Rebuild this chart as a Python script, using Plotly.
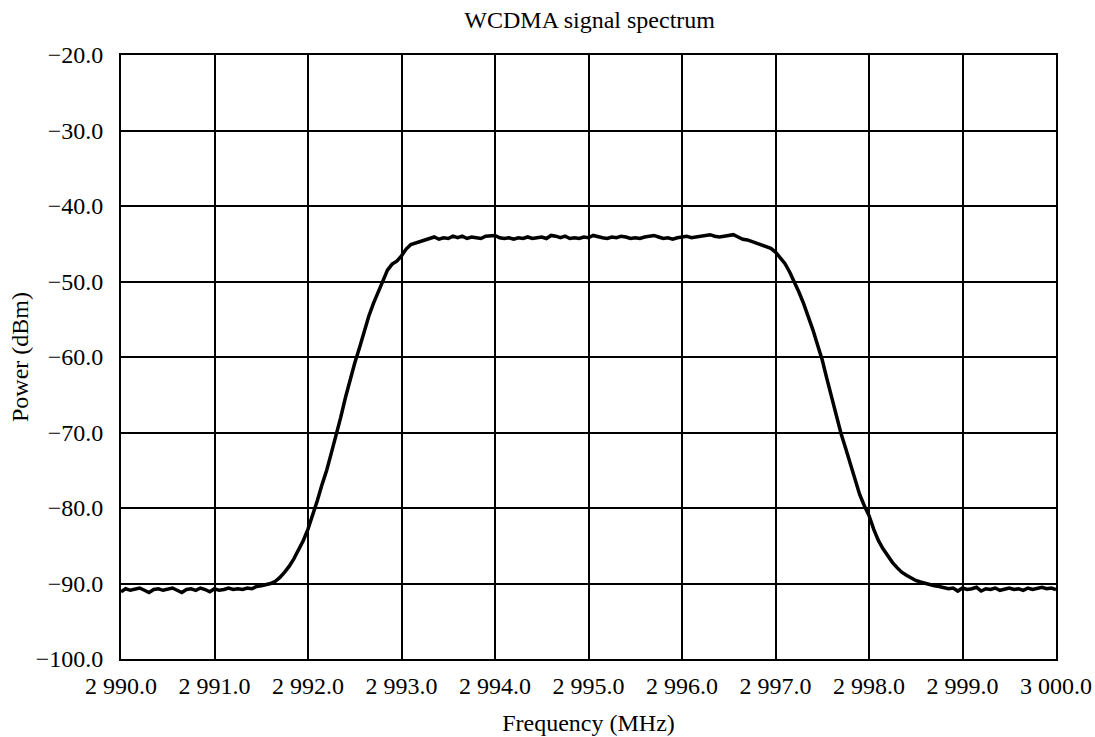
import plotly.graph_objects as go

# Measured WCDMA channel spectrum (frequency in MHz, power in dBm)
freq_mhz = [
    2990.00, 2990.05, 2990.10, 2990.15, 2990.20, 2990.25, 2990.30, 2990.35, 2990.40, 2990.45,
    2990.50, 2990.55, 2990.60, 2990.65, 2990.70, 2990.75, 2990.80, 2990.85, 2990.90, 2990.95,
    2991.00, 2991.05, 2991.10, 2991.15, 2991.20, 2991.25, 2991.30, 2991.35, 2991.40, 2991.45,
    2991.50, 2991.55, 2991.60, 2991.65, 2991.70, 2991.75, 2991.80, 2991.85, 2991.90, 2991.95,
    2992.00, 2992.05, 2992.10, 2992.15, 2992.20, 2992.25, 2992.30, 2992.35, 2992.40, 2992.45,
    2992.50, 2992.55, 2992.60, 2992.65, 2992.70, 2992.75, 2992.80, 2992.85, 2992.90, 2992.95,
    2993.00, 2993.05, 2993.10, 2993.15, 2993.20, 2993.25, 2993.30, 2993.35, 2993.40, 2993.45,
    2993.50, 2993.55, 2993.60, 2993.65, 2993.70, 2993.75, 2993.80, 2993.85, 2993.90, 2993.95,
    2994.00, 2994.05, 2994.10, 2994.15, 2994.20, 2994.25, 2994.30, 2994.35, 2994.40, 2994.45,
    2994.50, 2994.55, 2994.60, 2994.65, 2994.70, 2994.75, 2994.80, 2994.85, 2994.90, 2994.95,
    2995.00, 2995.05, 2995.10, 2995.15, 2995.20, 2995.25, 2995.30, 2995.35, 2995.40, 2995.45,
    2995.50, 2995.55, 2995.60, 2995.65, 2995.70, 2995.75, 2995.80, 2995.85, 2995.90, 2995.95,
    2996.00, 2996.05, 2996.10, 2996.15, 2996.20, 2996.25, 2996.30, 2996.35, 2996.40, 2996.45,
    2996.50, 2996.55, 2996.60, 2996.65, 2996.70, 2996.75, 2996.80, 2996.85, 2996.90, 2996.95,
    2997.00, 2997.05, 2997.10, 2997.15, 2997.20, 2997.25, 2997.30, 2997.35, 2997.40, 2997.45,
    2997.50, 2997.55, 2997.60, 2997.65, 2997.70, 2997.75, 2997.80, 2997.85, 2997.90, 2997.95,
    2998.00, 2998.05, 2998.10, 2998.15, 2998.20, 2998.25, 2998.30, 2998.35, 2998.40, 2998.45,
    2998.50, 2998.55, 2998.60, 2998.65, 2998.70, 2998.75, 2998.80, 2998.85, 2998.90, 2998.95,
    2999.00, 2999.05, 2999.10, 2999.15, 2999.20, 2999.25, 2999.30, 2999.35, 2999.40, 2999.45,
    2999.50, 2999.55, 2999.60, 2999.65, 2999.70, 2999.75, 2999.80, 2999.85, 2999.90, 2999.95,
    3000.00,
]

power_dbm = [
    -91.1, -90.7, -90.9, -90.8, -90.6, -90.9, -91.2, -90.8, -90.7, -90.9,
    -90.8, -90.6, -90.9, -91.2, -90.8, -90.7, -90.9, -90.6, -90.8, -91.1,
    -90.7, -90.9, -90.8, -90.6, -90.8, -90.7, -90.8, -90.6, -90.7, -90.4,
    -90.3, -90.2, -90.0, -89.7, -89.2, -88.5, -87.7, -86.7, -85.6, -84.3,
    -82.8, -81.0, -79.0, -76.9, -75.0, -72.7, -70.5, -68.0, -65.4, -63.0,
    -60.8, -58.8, -56.6, -54.6, -52.9, -51.4, -49.9, -48.5, -47.7, -47.3,
    -46.6, -45.7, -45.1, -44.9, -44.6, -44.4, -44.3, -44.1, -44.4, -44.2,
    -44.3, -44.0, -44.2, -44.0, -44.3, -44.1, -44.2, -44.3, -44.0, -43.9,
    -43.9, -44.2, -44.3, -44.2, -44.4, -44.2, -44.3, -44.1, -44.3, -44.2,
    -44.1, -44.3, -43.9, -44.0, -44.2, -44.0, -44.3, -44.2, -44.3, -44.1,
    -44.2, -43.9, -44.1, -44.2, -44.3, -44.1, -44.2, -44.0, -44.1, -44.3,
    -44.2, -44.3, -44.1, -44.0, -43.9, -44.1, -44.3, -44.2, -44.4, -44.2,
    -44.1, -44.0, -44.2, -44.1, -43.9, -43.9, -43.8, -44.0, -44.1, -44.0,
    -43.9, -43.8, -44.1, -44.4, -44.5, -44.7, -44.9, -45.1, -45.3, -45.6,
    -46.1, -46.9, -47.6, -48.7, -50.0, -51.4, -52.9, -54.6, -56.4, -58.4,
    -60.4, -62.9, -65.3, -67.8, -70.1, -72.1, -74.1, -76.4, -78.2, -79.7,
    -81.0, -82.8, -84.3, -85.4, -86.4, -87.2, -87.9, -88.5, -88.9, -89.3,
    -89.6, -89.8, -90.0, -90.1, -90.3, -90.4, -90.5, -90.7, -90.6, -91.0,
    -90.6, -90.8, -90.7, -90.5, -91.0, -90.7, -90.8, -90.6, -90.9, -90.7,
    -90.6, -90.8, -90.7, -90.9, -90.6, -90.8, -90.7, -90.5, -90.7, -90.6,
    -90.8,
]

FONT = "Liberation Serif, Times New Roman, serif"
FONT_SIZE = 24

fig = go.Figure(
    go.Scatter(
        x=freq_mhz,
        y=power_dbm,
        mode="lines",
        line=dict(color="black", width=3.5),
        hoverinfo="x+y",
        showlegend=False,
    )
)

axis_common = dict(
    showline=True,
    mirror=True,
    linecolor="black",
    linewidth=2,
    showgrid=True,
    gridcolor="black",
    gridwidth=2,
    zeroline=False,
    ticks="",
    automargin=False,
    tickfont=dict(family=FONT, size=FONT_SIZE, color="black"),
)

fig.update_layout(
    width=1095,
    height=737,
    margin=dict(l=121, r=39, t=55, b=78, autoexpand=False),
    paper_bgcolor="white",
    plot_bgcolor="white",
    separators=". ",
    font=dict(family=FONT, size=FONT_SIZE, color="black"),
    title=dict(
        text="WCDMA signal spectrum",
        x=0.5385,
        xanchor="center",
        y=1 - 20 / 737,
        yanchor="middle",
        yref="container",
        font=dict(family=FONT, size=FONT_SIZE, color="black"),
    ),
    xaxis=dict(
        axis_common,
        range=[2990, 3000],
        dtick=1,
        tick0=2990,
        tickformat=",.1f",
        ticklabelstandoff=4,
        title=dict(text="Frequency (MHz)", font=dict(family=FONT, size=FONT_SIZE), standoff=16),
    ),
    yaxis=dict(
        axis_common,
        range=[-100, -20],
        dtick=10,
        tick0=-100,
        tickformat=".1f",
        ticklabelstandoff=11,
        title=dict(text="Power (dBm)", font=dict(family=FONT, size=FONT_SIZE), standoff=0),
    ),
)

fig.write_html("out.html")
